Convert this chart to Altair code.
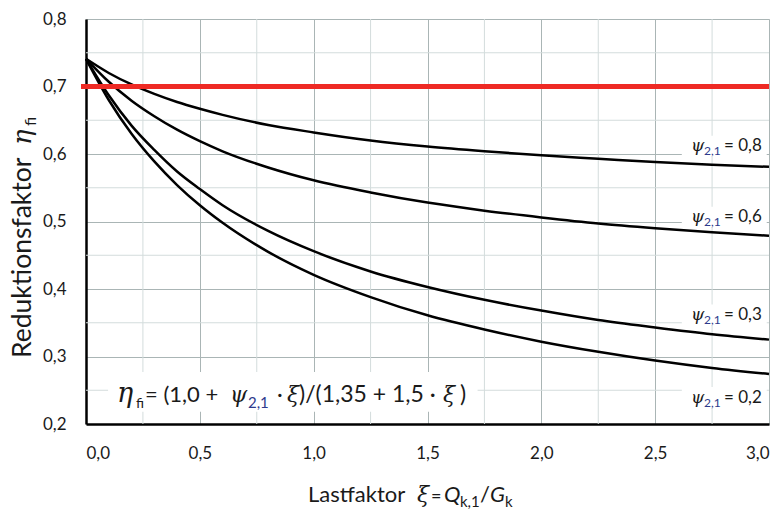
import altair as alt
import pandas as pd

# ---- data ----
xi = [0.0, 0.1, 0.2, 0.3, 0.4, 0.5, 0.6, 0.8, 1.0, 1.25, 1.5, 1.75, 2.0, 2.25, 2.5, 2.75, 3.0]
eta_08 = [0.741, 0.720, 0.703, 0.689, 0.677, 0.667, 0.658, 0.643, 0.632, 0.620, 0.611, 0.604, 0.598, 0.593, 0.588, 0.584, 0.581]
eta_06 = [0.741, 0.707, 0.679, 0.656, 0.636, 0.619, 0.604, 0.580, 0.561, 0.543, 0.528, 0.516, 0.506, 0.497, 0.490, 0.484, 0.479]
eta_03 = [0.741, 0.687, 0.642, 0.606, 0.574, 0.548, 0.524, 0.486, 0.456, 0.426, 0.403, 0.384, 0.368, 0.354, 0.343, 0.333, 0.325]
eta_02 = [0.741, 0.680, 0.630, 0.589, 0.554, 0.524, 0.498, 0.455, 0.421, 0.388, 0.361, 0.340, 0.322, 0.307, 0.294, 0.283, 0.274]
psi_names = ["0,8", "0,6", "0,3", "0,2"]
limit = 0.7

x_ticks = [0.0, 0.5, 1.0, 1.5, 2.0, 2.5, 3.0]
y_ticks = [0.2, 0.3, 0.4, 0.5, 0.6, 0.7, 0.8]
x_minor = [0.25, 0.75, 1.25, 1.75, 2.25, 2.75]
y_minor = [0.25, 0.35, 0.45, 0.55, 0.65, 0.75]

FONT = "Lato, DejaVu Sans"
GREEK = "DejaVu Serif"
SUBCOL = "#2e3a8c"

rows = []
for name, ys in zip(psi_names, [eta_08, eta_06, eta_03, eta_02]):
    for x, y in zip(xi, ys):
        rows.append({"psi": name, "xi": x, "eta": y})
curves = pd.DataFrame(rows)

xs = alt.Scale(domain=[0, 3], nice=False)
ys_ = alt.Scale(domain=[0.2, 0.8], nice=False)
lbl = "replace(format(datum.value, '.1f'), '.', ',')"

base_axes = alt.Chart(curves).mark_line(opacity=0).encode(
    x=alt.X("xi:Q", scale=xs, axis=alt.Axis(
        values=x_ticks, labelExpr=lbl, title=None, grid=True, gridColor="#aab5b5",
        gridWidth=1, domainColor="black", domainWidth=2.5, ticks=False,
        labelPadding=21, labelFontSize=17, labelColor="#1a1a1a", labelFont=FONT)),
    y=alt.Y("eta:Q", scale=ys_, axis=alt.Axis(
        values=y_ticks, labelExpr=lbl, title=None, grid=True, gridColor="#aab5b5",
        gridWidth=1, domainColor="black", domainWidth=2.5, ticks=False,
        labelPadding=20, labelFontSize=17, labelColor="#1a1a1a", labelFont=FONT)),
    detail="psi:N",
)

minor_x = alt.Chart(pd.DataFrame({"v": x_minor})).mark_rule(color="#d3dcdc", strokeWidth=1).encode(
    x=alt.X("v:Q", scale=xs))
minor_y = alt.Chart(pd.DataFrame({"v": y_minor})).mark_rule(color="#d3dcdc", strokeWidth=1).encode(
    y=alt.Y("v:Q", scale=ys_))

# white boxes behind annotation texts
boxes = pd.DataFrame({
    "x1": [2.617, 2.617, 2.617, 2.617, 0.097],
    "x2": [2.99, 2.99, 2.99, 2.99, 1.72],
    "y1": [0.596, 0.492, 0.346, 0.225, 0.218],
    "y2": [0.627, 0.522, 0.377, 0.255, 0.277],
})
box_layer = alt.Chart(boxes).mark_rect(color="white").encode(
    x=alt.X("x1:Q", scale=xs), x2="x2:Q", y=alt.Y("y1:Q", scale=ys_), y2="y2:Q")

lines = alt.Chart(curves).mark_line(color="black", strokeWidth=2.5, interpolate="monotone").encode(
    x=alt.X("xi:Q", scale=xs), y=alt.Y("eta:Q", scale=ys_), detail="psi:N")

red = alt.Chart(pd.DataFrame({"v": [limit]})).mark_rule(color="#ee2a24", strokeWidth=5).encode(
    x=alt.datum(-0.022), x2=alt.datum(3.0), y=alt.Y("v:Q", scale=ys_))


def txt(s, px, py, size, italic=False, color="#1a1a1a", angle=0, font=FONT):
    kw = dict(text=s, fontSize=size, font=font, color=color, align="left", baseline="alphabetic")
    if italic:
        kw["fontStyle"] = "italic"
    if angle:
        kw["angle"] = angle
    return alt.Chart(pd.DataFrame({"d": [0]})).mark_text(**kw).encode(
        x=alt.value(px), y=alt.value(py))


texts = []
# formula
texts += [
    txt("η", 31, 383, 27, True, font=GREEK),
    txt("fi", 50, 389, 14),
    txt("= (1,0 +", 59, 383, 22),
    txt("ψ", 144, 383, 22, True, font=GREEK),
    txt("2,1", 162, 389, 15, color=SUBCOL),
    txt("·", 191, 383, 22),
    txt("ξ", 201, 383, 22, True, font=GREEK),
    txt(")/(1,35 + 1,5 ·", 213, 383, 23),
    txt("ξ", 357, 383, 22, True, font=GREEK),
    txt(")", 374, 383, 23),
]
# curve labels
for name, base in zip(psi_names, [132, 203, 301, 384]):
    texts += [
        txt("ψ", 605, base, 17, True, font=GREEK),
        txt("2,1", 618, base + 4, 12, color=SUBCOL),
        txt("= " + name, 638, base, 17),
    ]
# x title
texts += [
    txt("Lastfaktor", 222, 483, 22),
    txt("ξ", 331, 483, 22, True, font=GREEK),
    txt("=", 345, 483, 18),
    txt("Q", 358, 483, 22, True),
    txt("k,1", 374, 488, 15),
    txt("/", 394, 483, 22),
    txt("G", 404, 483, 22, True),
    txt("k", 419, 488, 15),
]
# y title (rotated)
texts += [
    txt("Reduktionsfaktor", -55, 339, 26.5, angle=270),
    txt("η", -55, 126, 26, True, angle=270, font=GREEK),
    txt("fi", -50, 107, 16, angle=270),
]

chart = alt.layer(base_axes, minor_x, minor_y, box_layer, lines, red, *texts).properties(
    width=683, height=405,
    padding={"left": 78, "top": 11, "right": 6, "bottom": 85},
    autosize=alt.AutoSizeParams(type="none"),
).configure_view(stroke=None).configure(background="white")

chart.save("out.html", embed_options={"renderer": "svg", "actions": False})
